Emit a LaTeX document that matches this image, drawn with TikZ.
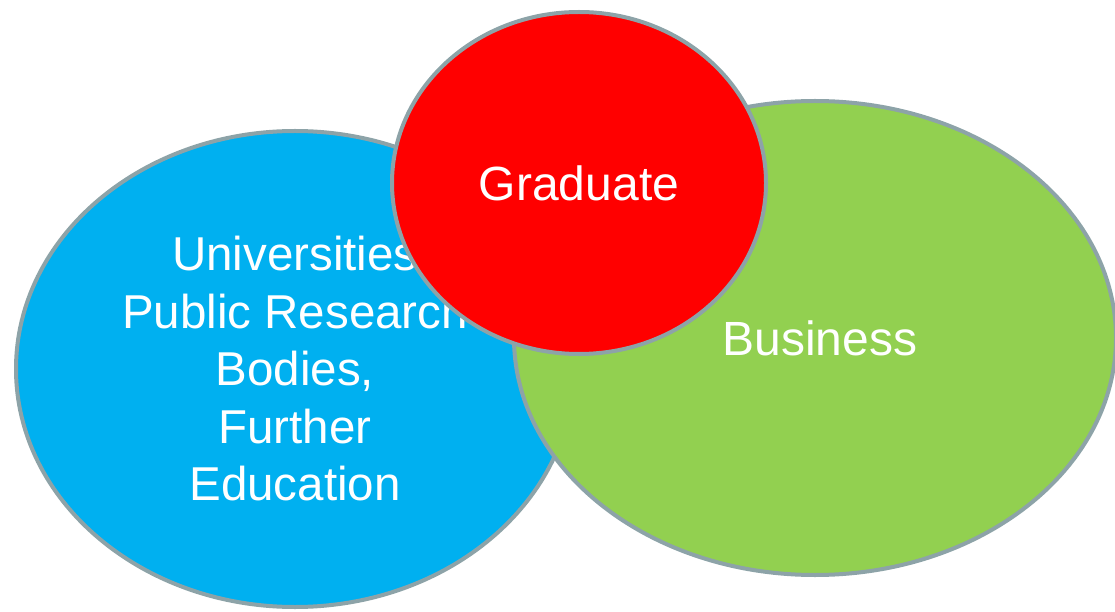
\documentclass[tikz,border=0pt]{standalone}
\usepackage{fontspec}
\setmainfont{Liberation Sans}
\usetikzlibrary{shapes.geometric}
\definecolor{rimgray}{RGB}{141,163,168}
\definecolor{uniblue}{RGB}{0,176,240}
\definecolor{bizgreen}{RGB}{146,208,80}
\definecolor{gradred}{RGB}{255,0,0}
\tikzstyle{blob}=[ellipse,draw=rimgray,line width=4pt,
                  inner sep=0pt,text=white,align=center]
\begin{document}
\begin{tikzpicture}[x=1pt,y=1pt]
    \useasboundingbox (0,0) rectangle (1115,611);
    \node (uni) at (295,242) [blob,fill=uniblue,minimum width=558,
        minimum height=476,font=\fontsize{47.5}{57.5}\selectfont]
        {\raisebox{-3pt}{}Universities\\Public Research\\Bodies,\\Further\\Education};
    \node (biz) at (815,273) [blob,fill=bizgreen,minimum width=602,
        minimum height=474,font=\fontsize{48}{58}\selectfont]
        {\hspace*{10pt}Business};
    \node (grad) at (579,428) [blob,fill=gradred,minimum width=374,
        minimum height=342,font=\fontsize{48}{58}\selectfont]
        {\raisebox{-2pt}{Graduate}};
\end{tikzpicture}
\end{document}
